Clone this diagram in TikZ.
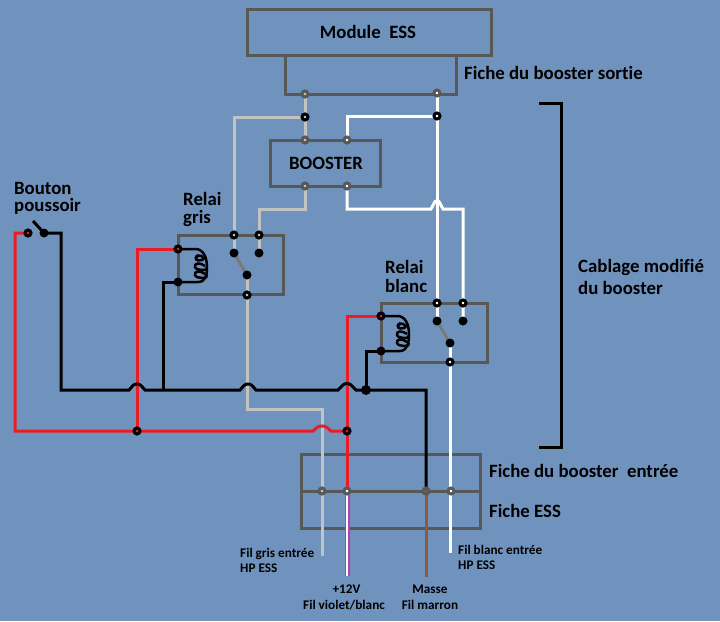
\documentclass[tikz,border=0pt]{standalone}
\usepackage{fontspec}
\setmainfont{Carlito}[Ligatures=CommonOff]
\definecolor{bg}{HTML}{7093BE}
\definecolor{boxc}{HTML}{585858}
\definecolor{grayw}{HTML}{C3C3C3}
\definecolor{redw}{HTML}{ED1C24}
\definecolor{brownw}{HTML}{8B5A40}
\definecolor{violetw}{HTML}{B840AC}
\tikzset{
 boxn/.style={draw=boxc,line width=3pt,inner sep=0pt,outer sep=0pt},
 wire/.style={line width=3pt,line join=miter},
 graywire/.style={wire,draw=grayw},
 whitewire/.style={wire,draw=white},
 redwire/.style={wire,draw=redw},
 blackwire/.style={wire,draw=black},
 sw/.style={line width=3pt,draw=gray!95!black},
 term/.style={circle,inner sep=0pt,outer sep=0pt,minimum size=6pt},
 ringk/.style={term,draw=black,line width=3pt,fill=#1},
 ringg/.style={term,draw=boxc,line width=3pt,fill=#1},
 dotk/.style={circle,fill=black,inner sep=0pt,outer sep=0pt,minimum size=9pt},
 bigdot/.style={circle,fill=black,inner sep=0pt,outer sep=0pt,minimum size=10pt},
 lbl/.style={font=\fontsize{18.8}{22}\selectfont\bfseries,inner sep=0pt,text=black},
 sm/.style={font=\fontsize{13.2}{15}\selectfont\bfseries,inner sep=0pt,text=black},
 coilw/.style={line width=2.5pt,draw=black},
}
\begin{document}
\begin{tikzpicture}[x=1pt,y=-1pt]
\useasboundingbox (0,0) rectangle (720,621);
\fill[bg] (0,0) rectangle (720,621);
% boxes
\node[boxn,minimum width=244pt,minimum height=46pt] (ess) at (369,32) {};
\node[boxn,minimum width=171pt,minimum height=39pt] (sortie) at (370.5,74.5) {};
\node[boxn,minimum width=110pt,minimum height=46pt] (boost) at (325,163) {};
\node[boxn,minimum width=105pt,minimum height=59pt] (rg) at (230.5,264.5) {};
\node[boxn,minimum width=106pt,minimum height=59pt] (rb) at (434,332.5) {};
\node[boxn,minimum width=179pt,minimum height=74pt] (bot) at (390.5,491) {};
\draw[boxc,line width=3pt] (bot.west) -- (bot.east);
% labels
\node[lbl] (t1) at (368,32) {Module\ \ ESS};
\node[lbl,anchor=west] (t2) at (464,73) {Fiche du booster sortie};
\node[lbl] (t3) at (326,163) {BOOSTER};
\node[lbl,anchor=west,align=left,font=\fontsize{18.8}{17}\selectfont\bfseries] (t4) at (14,198) {Bouton\\poussoir};
\node[lbl,anchor=west,align=left,font=\fontsize{18.8}{18}\selectfont\bfseries] (t5) at (183,209) {Relai\\gris};
\node[lbl,anchor=west,align=left,font=\fontsize{18.8}{19}\selectfont\bfseries] (t6) at (385,276) {Relai\\blanc};
\node[lbl,anchor=west,align=left,font=\fontsize{18.8}{22}\selectfont\bfseries] (t7) at (578,277) {Cablage modifié\\du booster};
\node[lbl,anchor=west] (t8) at (489,471) {Fiche du booster\ \ entrée};
\node[lbl,anchor=west] (t9) at (489,511) {Fiche ESS};
\node[sm,anchor=west,align=left] (t10) at (240,560) {Fil gris entrée\\HP ESS};
\node[sm,anchor=west,align=left] (t11) at (458,557) {Fil blanc entrée\\HP ESS};
\node[sm,align=center,font=\fontsize{13.2}{16}\selectfont\bfseries] (t12) at (344,597) {\hspace{5pt}+12V\\Fil violet/blanc};
\node[sm,align=center,font=\fontsize{13.2}{16}\selectfont\bfseries] (t13) at (430,597) {Masse\hspace{6pt}\\Fil marron};
% terminals (positions)
\coordinate (a1) at (305,94);
\coordinate (a2) at (437,93);
\coordinate (b1) at (305,117);
\coordinate (b2) at (437,116);
\coordinate (c1) at (305,140);
\coordinate (c2) at (347,140);
\coordinate (d1) at (305,186);
\coordinate (d2) at (347,186);
\coordinate (g1) at (234,235);
\coordinate (g2) at (259,235);
\coordinate (g3) at (234,253);
\coordinate (g4) at (259,253);
\coordinate (g5) at (247,275);
\coordinate (g6) at (247,295);
\coordinate (gc1) at (178,249);
\coordinate (gc2) at (178,282);
\coordinate (w1) at (437,303);
\coordinate (w2) at (463,303);
\coordinate (w3) at (437,321);
\coordinate (w4) at (463,321);
\coordinate (w5) at (450,343);
\coordinate (w6) at (450,362);
\coordinate (wc1) at (381,316);
\coordinate (wc2) at (381,351);
\coordinate (s1) at (28,233);
\coordinate (s2) at (44,233);
\coordinate (s3) at (33,221);
\coordinate (r1) at (137,431);
\coordinate (r2) at (347,431);
\coordinate (k1) at (366,390);
\coordinate (f1) at (322,491);
\coordinate (f2) at (347,491);
\coordinate (f3) at (426,491);
\coordinate (f4) at (451,491);
\coordinate (e1) at (322,556);
\coordinate (e2) at (347,576);
\coordinate (e3) at (426,577);
\coordinate (e4) at (450,553);
% gray wires
\draw[graywire] (a1) -- (c1);
\draw[graywire] (b1) -| (g3);
\draw[graywire] (d1) |- (259,209) -- (g4);
\draw[graywire] (g5) -- (247,409) -| (e1);
% white wires
\draw[whitewire] (a2) -- (w3);
\draw[whitewire] (b2) -| (c2);
\draw[whitewire] (d2) -- (347,209) -- (431,209) -- (435,201.5) .. controls (436,200.5) and (438,200.5) .. (439,201.5) -- (443,209) -- (463,209) -- (w4);
\draw[whitewire] (w5) -- (e4);
% switch arms
\draw[sw] (g3) -- (g5);
\draw[sw] (w3) -- (w5);
% violet, brown
\draw[violetw,line width=5pt] (f2) -- (e2);
\draw[white,line width=2.4pt] (f2) -- (e2);
\draw[brownw,wire] (f3) -- (e3);
% red wires
\draw[redwire] (s1) -- (15,233) -- (15,431) -- (r1) -- (313,431) -- (317,427.5) .. controls (319,425.5) and (325,425.5) .. (327,427.5) -- (331,431) -- (r2);
\draw[redwire] (gc1) -| (137,431);
\draw[redwire] (wc1) -| (f2);
% black wires
\draw[blackwire] (s3) -- (s2);
\draw[blackwire] (s2) -- (61,233) -- (61,390) -- (129,390) -- (133,385.5) .. controls (135,383.5) and (139,383.5) .. (141,385.5) -- (145,390) -- (240,390) -- (244,385.5) .. controls (246,383.5) and (250,383.5) .. (252,385.5) -- (256,390) -- (338,390) -- (343,385) .. controls (345,383) and (349,383) .. (351,385) -- (356,390) -- (k1) -| (f3);
\draw[blackwire] (gc2) -- (163,282) -- (163,390);
\draw[blackwire] (wc2) -| (k1);
% coils
\draw[coilw] (gc1) -- (197,249) .. controls (206,251) and (207,262) .. (207,268) .. controls (207,276) and (205,282) .. (198,282) -- (gc2);
\draw[coilw] (198,256) .. controls (193,258) and (197,262) .. (202,260) .. controls (208,258) and (196,252) .. (196,258) (205,266) .. controls (200,262) and (194,263) .. (195,267) .. controls (196,271) and (209,271) .. (207,267) (205,274) .. controls (200,270) and (194,271) .. (195,275) .. controls (196,279) and (209,279) .. (207,275);
\draw[coilw] (wc1) -- (399,316) .. controls (408,318) and (409,329) .. (409,335) .. controls (409,343) and (407,351) .. (400,351) -- (wc2);
\draw[coilw] (400,324) .. controls (395,326) and (399,330) .. (404,328) .. controls (410,326) and (398,320) .. (398,326) (407,334) .. controls (402,330) and (396,331) .. (397,335) .. controls (398,339) and (411,339) .. (409,335) (407,342) .. controls (402,338) and (396,339) .. (397,343) .. controls (398,347) and (411,347) .. (409,343);
% bracket
\coordinate (br1) at (539,103);
\coordinate (br2) at (561,103);
\coordinate (br3) at (561,447);
\coordinate (br4) at (539,447);
\draw[blackwire] (br1) -- (br2) -- (br3) -- (br4);
% junction markers
\node[ringg=grayw] (A1) at (a1) {};
\node[ringg=white] (A2) at (a2) {};
\node[ringk=grayw] (B1) at (b1) {};
\node[ringk=white] (B2) at (b2) {};
\node[ringg=grayw] (C1) at (c1) {};
\node[ringg=white] (C2) at (c2) {};
\node[ringg=grayw] (D1) at (d1) {};
\node[ringg=white] (D2) at (d2) {};
\node[ringk=grayw] (G1) at (g1) {};
\node[ringk=grayw] (G2) at (g2) {};
\node[dotk] (G3) at (g3) {};
\node[dotk] (G4) at (g4) {};
\node[dotk] (G5) at (g5) {};
\node[ringk=grayw] (G6) at (g6) {};
\node[ringk=redw] (GC1) at (gc1) {};
\node[dotk] (GC2) at (gc2) {};
\node[ringk=white] (W1) at (w1) {};
\node[ringk=white] (W2) at (w2) {};
\node[dotk] (W3) at (w3) {};
\node[dotk] (W4) at (w4) {};
\node[dotk] (W5) at (w5) {};
\node[ringk=white] (W6) at (w6) {};
\node[ringk=redw] (WC1) at (wc1) {};
\node[dotk] (WC2) at (wc2) {};
\node[ringk=redw] (S1) at (s1) {};
\node[dotk] (S2) at (s2) {};
\node[ringk=redw] (R1) at (r1) {};
\node[ringk=redw] (R2) at (r2) {};
\node[bigdot] (K1) at (k1) {};
\node[ringg=grayw] (F1) at (f1) {};
\node[ringg=white] (F2) at (f2) {};
\node[ringg=brownw] (F3) at (f3) {};
\node[ringg=white] (F4) at (f4) {};
\end{tikzpicture}
\end{document}
